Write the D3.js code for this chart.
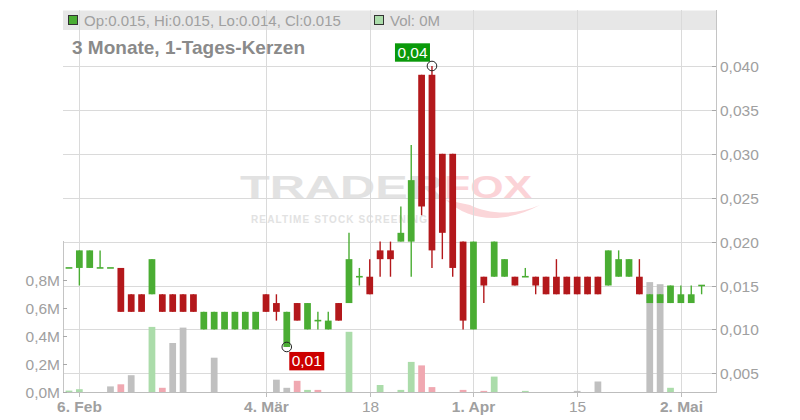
<!DOCTYPE html>
<html><head><meta charset="utf-8">
<script src="https://cdn.jsdelivr.net/npm/d3@7"></script>
<style>
html,body{margin:0;padding:0;background:#fff;}
svg{display:block;font-family:"Liberation Sans",Arial,sans-serif;}
</style></head>
<body>
<svg id="c" width="800" height="420"></svg>
<script>
// ---- data ----
const openP  = [.017,.017,.017,.017,.017,.017,.014,.014,.014,.014,.014,.014,.014,.010,.010,.010,.010,.010,.010,.014,.013,.008,.013,.010,.011,.010,.013,.013,.016,.016,.019,.019,.020,.020,.039,.039,.030,.030,.020,.010,.016,.016,.016,.016,.016,.016,.016,.016,.016,.016,.016,.016,.015,.016,.016,.016,.013,.013,.013,.013,.013,.015];
const highP  = [.017,.019,.019,.019,.017,.017,.014,.014,.018,.014,.014,.014,.014,.012,.012,.012,.012,.012,.012,.014,.014,.012,.013,.013,.012,.012,.013,.021,.017,.018,.020,.020,.024,.031,.039,.040,.030,.030,.020,.020,.016,.020,.018,.016,.017,.016,.016,.018,.016,.016,.016,.016,.019,.019,.018,.018,.014,.014,.015,.015,.015,.015];
const lowP   = [.017,.015,.017,.017,.017,.012,.012,.012,.014,.012,.012,.012,.012,.010,.010,.010,.010,.010,.010,.012,.011,.008,.011,.010,.010,.010,.011,.013,.015,.014,.016,.016,.020,.016,.023,.017,.018,.016,.010,.010,.013,.016,.016,.015,.016,.014,.014,.014,.014,.014,.014,.014,.015,.016,.016,.014,.013,.013,.013,.013,.013,.014];
const closeP = [.017,.019,.019,.017,.017,.012,.012,.012,.018,.012,.012,.012,.012,.012,.012,.012,.012,.012,.012,.012,.012,.012,.011,.013,.011,.011,.011,.018,.016,.014,.018,.018,.021,.027,.024,.019,.021,.017,.011,.020,.015,.020,.018,.015,.016,.015,.014,.014,.014,.014,.014,.014,.019,.018,.018,.014,.014,.014,.015,.014,.014,.015];
const volumeM = [.01,.02,0,0,.04,.055,.12,0,.465,.03,.35,.46,0,0,.245,0,0,0,0,0,.088,.03,.08,.015,.015,0,0,.43,0,0,.05,0,.015,.215,.19,.035,0,0,.015,0,.008,.11,0,0,.008,0,0,0,0,.008,0,.075,0,0,0,0,.785,.77,.03,0,0,0];
const dateTickIdx = [1,19,29,39,49,59];
const dateTickLabels = ["6. Feb","4. Mär","18","1. Apr","15","2. Mai"];
const dateTickBold = [true,true,false,true,false,true];
const priceTicks = [0.005,0.010,0.015,0.020,0.025,0.030,0.035,0.040];
const volTicks = [0,0.2,0.4,0.6,0.8];
const titleText = "3 Monate, 1-Tages-Kerzen";
const legendText = "Op:0.015, Hi:0.015, Lo:0.014, Cl:0.015";
const volLegendText = "Vol: 0M";
const hiLabel = "0,04", loLabel = "0,01";

// ---- layout ----
const L = 63, R = 716, T = 10, B = 392;
const svg = d3.select("#c");
const n = openP.length;
const x = d3.scaleBand().domain(d3.range(n)).range([63.8, 706.8]).paddingInner(0.35).paddingOuter(0.175);
const bw = x.bandwidth();
const cx = i => x(i) + bw / 2;
const y = d3.scaleLinear().domain([0.005, 0.040]).range([373.3, 66]);
const yv = d3.scaleLinear().domain([0, 0.8]).range([B, 280]);
const comma = f => s => f(s).replace(".", ",");
const fmtP = comma(d3.format(".3f"));
const fmtV = v => comma(d3.format(".1f"))(v) + "M";

const GREEN = "#4aad33", RED = "#b3181b";
const VGREEN = "#abdcaa", VRED = "#f0a8b1", VGRAY = "#c0c0c0";
const TXT = "#a0a0a0";

// watermark
const wm = svg.append("g");
wm.append("text").attr("x", 240).attr("y", 197.5).attr("font-size", 31).attr("font-weight", 900)
  .attr("fill", "#e2e2e2").attr("textLength", 203).attr("lengthAdjust", "spacingAndGlyphs").text("TRADER");
wm.append("text").attr("x", 444).attr("y", 197.5).attr("font-size", 31).attr("font-weight", 900)
  .attr("fill", "#fbd3d7").attr("textLength", 88).attr("lengthAdjust", "spacingAndGlyphs").text("FOX");
wm.append("path").attr("d", "M446,200 C470,222 505,224 540,205 C515,216 488,214 470,205 Z").attr("fill", "#fbd6d9");
wm.append("text").attr("x", 251).attr("y", 222.5).attr("font-size", 10).attr("font-weight", 700)
  .attr("fill", "#e2e2e2").attr("textLength", 176).attr("lengthAdjust", "spacing").text("REALTIME STOCK SCREENING");

// legend band
svg.append("rect").attr("x", L).attr("y", 10.5).attr("width", R - L).attr("height", 19.5).attr("fill", "#e7e7e7");

// gridlines
const grid = svg.append("g").attr("stroke", "#dadada").attr("stroke-width", 1);
priceTicks.forEach(p => grid.append("line").attr("x1", L).attr("x2", R).attr("y1", Math.round(y(p)) + 0.5).attr("y2", Math.round(y(p)) + 0.5));
dateTickIdx.forEach(i => grid.append("line").attr("x1", Math.round(cx(i)) + 0.5).attr("x2", Math.round(cx(i)) + 0.5).attr("y1", T).attr("y2", B));

// legend contents
svg.append("rect").attr("x", 68.5).attr("y", 15.5).attr("width", 9).attr("height", 9).attr("fill", GREEN).attr("stroke", "#333");
svg.append("text").attr("x", 84).attr("y", 26).attr("font-size", 15).attr("fill", TXT).text(legendText);
svg.append("rect").attr("x", 374.5).attr("y", 15.5).attr("width", 9).attr("height", 9).attr("fill", VGREEN).attr("stroke", "#333");
svg.append("text").attr("x", 390).attr("y", 26).attr("font-size", 15).attr("fill", TXT).text(volLegendText);

// title
svg.append("text").attr("x", 72).attr("y", 54).attr("font-size", 19).attr("font-weight", 700).attr("fill", "#8a8a8a").text(titleText);

// volume bars
const vcol = i => {
  if (i === 0) return VGREEN;
  if (closeP[i] > closeP[i-1]) return VGREEN;
  if (closeP[i] < closeP[i-1]) return VRED;
  return VGRAY;
};
svg.append("g").selectAll("rect").data(d3.range(n).filter(i => volumeM[i] > 0)).join("rect")
  .attr("x", i => x(i)).attr("width", bw)
  .attr("y", i => yv(volumeM[i])).attr("height", i => B - yv(volumeM[i]))
  .attr("fill", vcol);

// candles
const cg = svg.append("g");
d3.range(n).forEach(i => {
  const up = closeP[i] >= openP[i];
  const col = up ? GREEN : RED;
  const g = cg.append("g");
  g.append("line").attr("x1", cx(i)).attr("x2", cx(i)).attr("y1", y(highP[i])).attr("y2", y(lowP[i]))
    .attr("stroke", col).attr("stroke-width", 1.4);
  const top = y(Math.max(openP[i], closeP[i])), bot = y(Math.min(openP[i], closeP[i]));
  const h = Math.max(1.6, bot - top);
  g.append("rect").attr("x", x(i)).attr("width", bw).attr("y", bot - top < 1.6 ? top - 0.8 : top).attr("height", h).attr("fill", col);
});

// axes lines
svg.append("line").attr("x1", L).attr("x2", R).attr("y1", B + 0.5).attr("y2", B + 0.5).attr("stroke", "#bdbdbd");
svg.append("line").attr("x1", R + 0.5).attr("x2", R + 0.5).attr("y1", T).attr("y2", B + 1).attr("stroke", "#c4c4c4");
svg.append("line").attr("x1", L + 0.5).attr("x2", L + 0.5).attr("y1", 241).attr("y2", B + 1).attr("stroke", "#c4c4c4");

// right price axis
const ra = svg.append("g");
priceTicks.forEach(p => {
  const yy = Math.round(y(p)) + 0.5;
  ra.append("line").attr("x1", R - 4).attr("x2", R).attr("y1", yy).attr("y2", yy).attr("stroke", "#a8a8a8");
  ra.append("text").attr("x", 720).attr("y", yy).attr("dy", "0.36em").attr("font-size", 15.5).attr("fill", TXT).text(fmtP(p));
});

// left volume axis
const la = svg.append("g");
volTicks.forEach(v => {
  const yy = Math.round(yv(v)) + 0.5;
  la.append("line").attr("x1", L).attr("x2", L + 4).attr("y1", yy).attr("y2", yy).attr("stroke", "#a8a8a8");
  la.append("text").attr("x", 60).attr("y", yy).attr("dy", "0.36em").attr("text-anchor", "end").attr("font-size", 15.5).attr("fill", TXT).text(fmtV(v));
});

// bottom date axis
const ba = svg.append("g");
dateTickIdx.forEach((i, k) => {
  const xx = Math.round(cx(i)) + 0.5;
  ba.append("line").attr("x1", xx).attr("x2", xx).attr("y1", B).attr("y2", B + 5).attr("stroke", "#bdbdbd");
  ba.append("text").attr("x", xx).attr("y", 411.5).attr("text-anchor", "middle").attr("font-size", 15.5)
    .attr("font-weight", dateTickBold[k] ? 700 : 400).attr("fill", TXT).text(dateTickLabels[k]);
});

// high / low markers
const hiI = d3.maxIndex(highP), loI = d3.minIndex(lowP);
const hx = cx(hiI), hy = y(highP[hiI]);
svg.append("rect").attr("x", hx - 37).attr("y", hy - 22.7).attr("width", 35).attr("height", 18.4).attr("fill", "#0a990a");
svg.append("text").attr("x", hx - 19.5).attr("y", hy - 8.5).attr("text-anchor", "middle").attr("font-size", 15.5).attr("fill", "#fff").text(hiLabel);
svg.append("circle").attr("cx", hx).attr("cy", hy).attr("r", 4.8).attr("fill", "none").attr("stroke", "#222").attr("stroke-width", 1);
const lx = cx(loI), ly = y(lowP[loI]);
svg.append("rect").attr("x", lx + 2.5).attr("y", ly + 5).attr("width", 35).attr("height", 18.4).attr("fill", "#cc0000");
svg.append("text").attr("x", lx + 20).attr("y", ly + 19.2).attr("text-anchor", "middle").attr("font-size", 15.5).attr("fill", "#fff").text(loLabel);
svg.append("circle").attr("cx", lx).attr("cy", ly).attr("r", 4.8).attr("fill", "none").attr("stroke", "#222").attr("stroke-width", 1);
</script>
</body></html>
